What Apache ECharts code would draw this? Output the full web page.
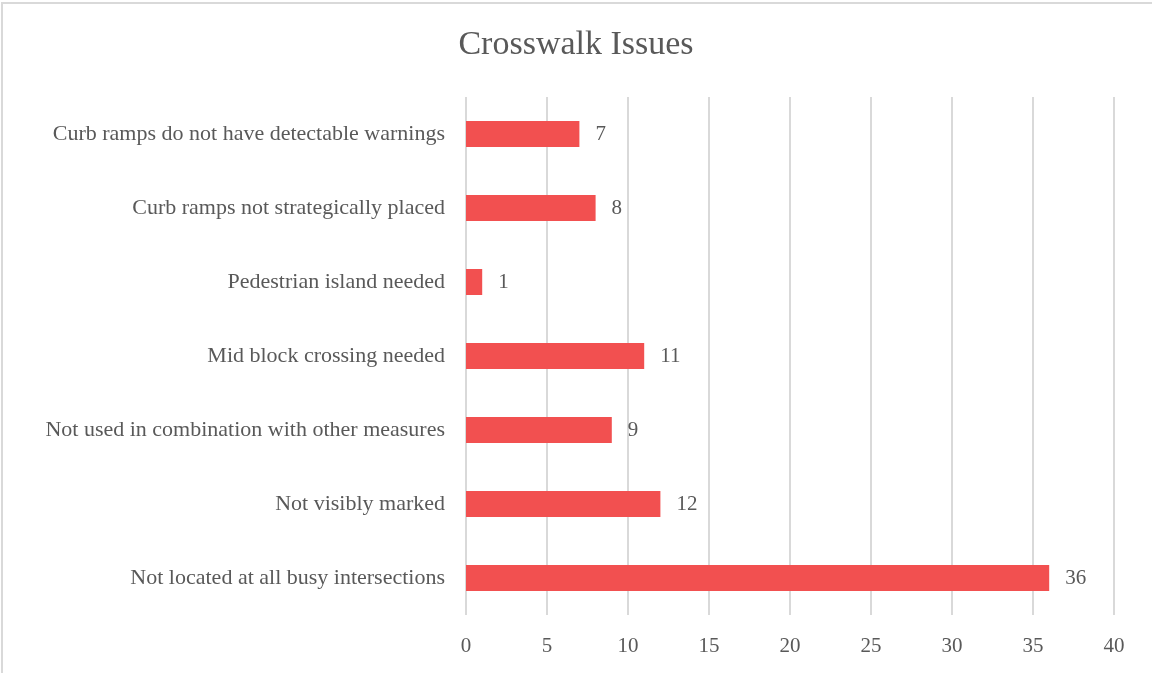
<!DOCTYPE html>
<html>
<head>
<meta charset="utf-8">
<script src="https://cdn.jsdelivr.net/npm/echarts@6/dist/echarts.min.js"></script>
<style>
  html, body { margin: 0; padding: 0; background: #fff; }
  #frame { position: absolute; left: 1px; top: 2px; width: 1160px; height: 680px; border: 2px solid #d9d9d9; box-sizing: border-box; }
  #chart { position: absolute; left: 0; top: 0; width: 1152px; height: 673px; }
</style>
</head>
<body>
<div id="frame"></div>
<div id="chart"></div>
<script>
// Crosswalk issue categories, listed bottom to top as on the axis
const categories = [
  'Not located at all busy intersections',
  'Not visibly marked',
  'Not used in combination with other measures',
  'Mid block crossing needed',
  'Pedestrian island needed',
  'Curb ramps not strategically placed',
  'Curb ramps do not have detectable warnings'
];
const counts = [36, 12, 9, 11, 1, 8, 7];
const xTicks = [0, 5, 10, 15, 20, 25, 30, 35, 40];

const font = '"Liberation Serif", "DejaVu Serif", serif';
const textColor = '#595959';

const chart = echarts.init(document.getElementById('chart'), null, { renderer: 'canvas' });
chart.setOption({
  backgroundColor: 'transparent',
  animation: false,
  title: {
    text: 'Crosswalk Issues',
    left: 'center',
    top: 23,
    textStyle: { fontFamily: font, fontSize: 34, fontWeight: 'normal', color: textColor }
  },
  grid: { left: 466, right: 38, top: 97, bottom: 58, containLabel: false },
  xAxis: {
    type: 'value',
    min: xTicks[0],
    max: xTicks[xTicks.length - 1],
    interval: 5,
    axisLine: { show: false },
    axisTick: { show: false },
    axisLabel: { fontFamily: font, fontSize: 21, color: textColor, margin: 21 },
    splitLine: { show: true, lineStyle: { color: '#d9d9d9', width: 2 } }
  },
  yAxis: {
    type: 'category',
    data: categories,
    axisLine: { show: false },
    axisTick: { show: false },
    axisLabel: { fontFamily: font, fontSize: 22, color: textColor, margin: 21 }
  },
  series: [{
    type: 'bar',
    data: counts,
    barWidth: 26,
    itemStyle: { color: '#f25050' },
    label: {
      show: true,
      position: 'right',
      distance: 16,
      fontFamily: font,
      fontSize: 21,
      color: textColor
    }
  }]
});
</script>
</body>
</html>
